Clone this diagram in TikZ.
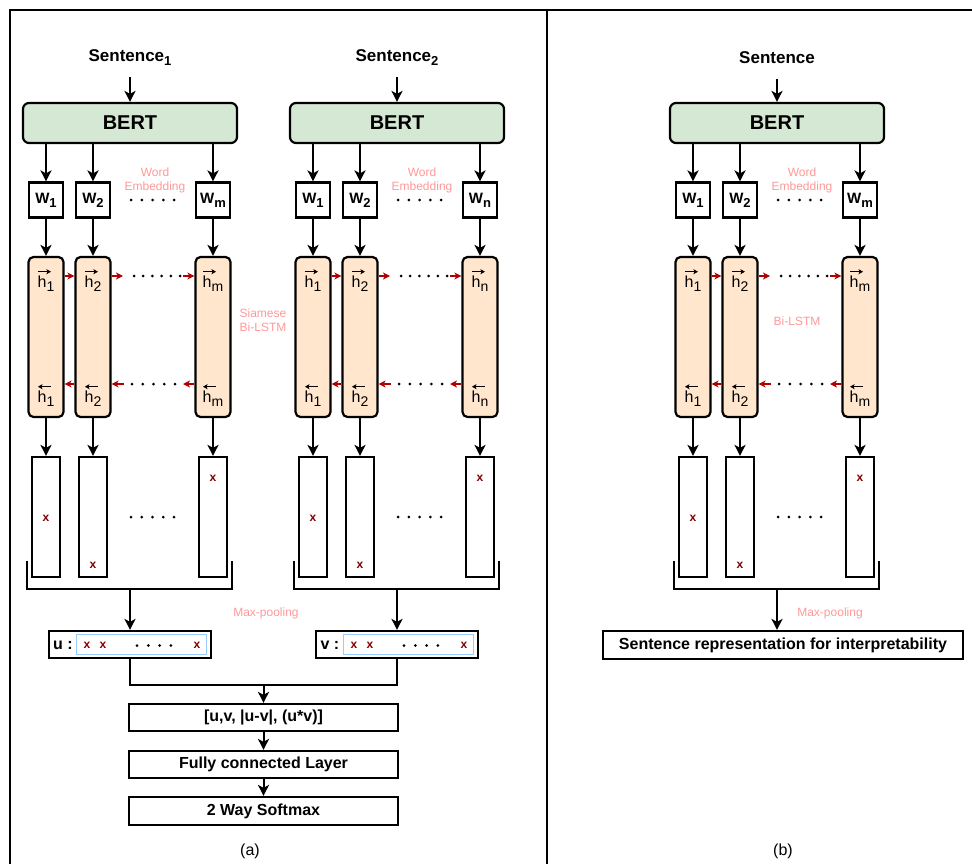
\documentclass[tikz,border=0pt]{standalone}
\usepackage{fontspec}
\setmainfont{Liberation Sans}
\usetikzlibrary{arrows.meta}

\definecolor{bertgreen}{HTML}{D5E8D4}
\definecolor{peach}{HTML}{FFE6CC}
\definecolor{pinktxt}{HTML}{FF9999}
\definecolor{xred}{HTML}{800000}
\definecolor{arrred}{HTML}{B20000}
\definecolor{inblue}{HTML}{99CCFF}

\newcommand\fs[1]{\fontsize{#1}{#1}\selectfont}
\newcommand\Wsub[2]{\textbf{#1\raisebox{-4pt}{\fs{13}#2}}}
\newcommand\hsub[1]{h\raisebox{-4pt}{\fs{14}#1}}

\tikzset{
 bx/.style={draw, line width=2.2pt, inner sep=0pt},
 bert/.style={bx, fill=bertgreen, rounded corners=6pt, minimum width=214pt, minimum height=40pt, font=\fs{20}\bfseries},
 wbox/.style={bx, fill=white, minimum width=34pt, minimum height=35pt, font=\fs{15}\bfseries},
 cell/.style={bx, fill=peach, rounded corners=5pt, minimum width=35pt, minimum height=160pt},
 xbox/.style={bx, minimum width=28pt, minimum height=120pt},
 hl/.style={inner sep=0pt, font=\fs{16}, anchor=base},
 harr/.style={line width=1.2pt, -{Stealth[length=4.5pt,width=5pt,inset=1pt]}},
 xmark/.style={inner sep=0pt, font=\fs{12}\bfseries, text=xred},
 pinklabel/.style={inner sep=0pt, font=\fontsize{12}{14}\selectfont, text=pinktxt, align=center},
 ttl/.style={inner sep=0pt, font=\fs{17}\bfseries, anchor=base, text depth=15pt},
 arr/.style={line width=2pt, -{Stealth[length=11pt,width=11pt,inset=3pt]}},
 rarr/.style={line width=1.4pt, draw=arrred, -{Stealth[length=7pt,width=7pt,inset=2pt]}},
 dotrow/.style={line width=3pt, line cap=round, dash pattern=on 0pt off #1},
 dotrow/.default=10.8pt,
 brk/.style={line width=1.2pt},
 flat/.style={bx, minimum height=27pt, font=\fs{16}\bfseries},
 inbox/.style={draw=inblue, line width=1pt, minimum width=130pt, minimum height=20pt, inner sep=0pt},
 lbl/.style={inner sep=0pt, font=\fs{16}},
 border/.style={line width=2.4pt}
}

\newcommand\encoder[5]{%
\begin{scope}[shift={(#2,0)}, name prefix=#1-]
 \node[ttl] (sent) at (130,#5) {#3};
 \node[bert] (bert) at (130,123) {BERT};
 \draw[arr] (sent.south) -- (bert.north);
 \node[wbox] (w1) at (46,200) {\Wsub{W}{1}};
 \node[wbox] (w2) at (93,200) {\Wsub{W}{2}};
 \node[wbox] (wm) at (213,200) {\Wsub{W}{#4}};
 \draw[arr] (bert.south -| w1) -- (w1);
 \draw[arr] (bert.south -| w2) -- (w2);
 \draw[arr] (bert.south -| wm) -- (wm);
 \node[pinklabel] (we) at (155,180) {Word\\Embedding};
 \draw[dotrow] (131,200) -- (175,200);
 \node[cell] (c1) at (46,337) {};
 \node[cell] (c2) at (93,337) {};
 \node[cell] (cm) at (213,337) {};
 \draw[arr] (w1) -- (c1);
 \draw[arr] (w2) -- (c2);
 \draw[arr] (wm) -- (cm);
 \node[hl] (h1f) at (46,287) {\hsub{1}};
 \node[hl] (h2f) at (93,287) {\hsub{2}};
 \node[hl] (hmf) at (213,287) {\hsub{#4}};
 \node[hl] (h1b) at (46,402) {\hsub{1}};
 \node[hl] (h2b) at (93,402) {\hsub{2}};
 \node[hl] (hmb) at (213,402) {\hsub{#4}};
 \foreach \n in {h1f,h2f,hmf}{
   \draw[harr] ([shift={(0.5pt,3.5pt)}]\n.north west) -- ++(13,0);}
 \foreach \n in {h1b,h2b,hmb}{
   \draw[harr] ([shift={(13.5pt,3.5pt)}]\n.north west) -- ++(-13,0);}
 \coordinate (fy) at (0,276);
 \coordinate (by) at (0,384);
 \coordinate (f2) at (123,276);
 \coordinate (f3) at (183,276);
 \coordinate (b2) at (124,384);
 \coordinate (b3) at (183,384);
 \draw[rarr] (c1.east |- fy) -- (c2.west |- fy);
 \draw[rarr] (c2.east |- fy) -- (f2);
 \draw[dotrow=9.2pt] (134,276) -- (180.5,276);
 \draw[rarr] (f3) -- (cm.west |- fy);
 \draw[rarr] (c2.west |- by) -- (c1.east |- by);
 \draw[rarr] (b2) -- (c2.east |- by);
 \draw[dotrow=10.75pt] (132,384) -- (175.5,384);
 \draw[rarr] (cm.west |- by) -- (b3);
 \node[xbox] (x1) at (46,517) {};
 \node[xbox] (x2) at (93,517) {};
 \node[xbox] (xm) at (213,517) {};
 \draw[arr] (c1) -- (x1);
 \draw[arr] (c2) -- (x2);
 \draw[arr] (cm) -- (xm);
 \node[xmark] (x1v) at (46,518) {x};
 \node[xmark] (x2v) at (93,565) {x};
 \node[xmark] (xmv) at (213,478) {x};
 \draw[dotrow=10.75pt] (131,517) -- (174.5,517);
 \coordinate (brL) at (27,561);
 \coordinate (brR) at (232,561);
 \coordinate (brC) at (130,589);
 \draw[brk] (brL) |- (brC) -| (brR);
\end{scope}}

\newcommand\pooled[3]{%
\begin{scope}[shift={(#2,0)}, name prefix=#1-]
 \node[flat, minimum width=162pt] (box) at (130,644.5) {};
 \node[inbox] (inner) at (141,644) {};
 \node[lbl, font=\fs{16}\bfseries] (lab) at (63,645) {#3 :};
 \node[xmark] (p1) at (87,645) {x};
 \node[xmark] (p2) at (103,645) {x};
 \node[xmark] (pm) at (197,645) {x};
 \draw[dotrow=11.3pt] (137,645.5) -- (171.5,645.5);
\end{scope}}

\begin{document}
\begin{tikzpicture}[x=1pt,y=-1pt]
\useasboundingbox (0,0) rectangle (972,864);
\fill[white] (0,0) rectangle (972,864);

% frame
\draw[border] (972,10) -- (10,10) -- (10,864);
\draw[border] (547,10) -- (547,864);

% panel (a)
\encoder{A}{0}{Sentence\raisebox{-3.5pt}{\fs{13}1}}{m}{62}
\encoder{B}{267}{Sentence\raisebox{-3.5pt}{\fs{13}2}}{n}{62}
\node[pinklabel] (siam) at (263,320) {Siamese\\Bi-LSTM};
\node[pinklabel] (mpa) at (266,613) {Max-pooling};

\pooled{U}{0}{u}
\pooled{V}{267}{v}
\draw[arr] (A-brC) -- (U-box);
\draw[arr] (B-brC) -- (V-box);

\coordinate (jn) at (263.5,685);
\draw[line width=2pt] (U-box.south) |- (jn) -| (V-box.south);

\node[flat, minimum width=269pt] (cat) at (263.5,717.5) {[u,v, |u-v|, (u*v)]};
\node[flat, minimum width=269pt] (fc) at (263.5,764.5) {Fully connected Layer};
\node[flat, minimum width=269pt, minimum height=28pt] (soft) at (263.5,811) {2 Way Softmax};
\draw[arr] (jn) -- (cat);
\draw[arr] (cat) -- (fc);
\draw[arr] (fc) -- (soft);
\node[lbl] (capa) at (250,851) {(a)};

% panel (b)
\encoder{C}{647}{Sentence}{m}{64}
\node[pinklabel] (bil) at (797,321) {Bi-LSTM};
\node[pinklabel] (mpb) at (830,613) {Max-pooling};
\node[flat, minimum width=360pt, minimum height=28pt] (rep) at (783,645) {Sentence representation for interpretability};
\draw[arr] (C-brC) -- (C-brC |- rep.north);
\node[lbl] (capb) at (783,851) {(b)};
\end{tikzpicture}
\end{document}
